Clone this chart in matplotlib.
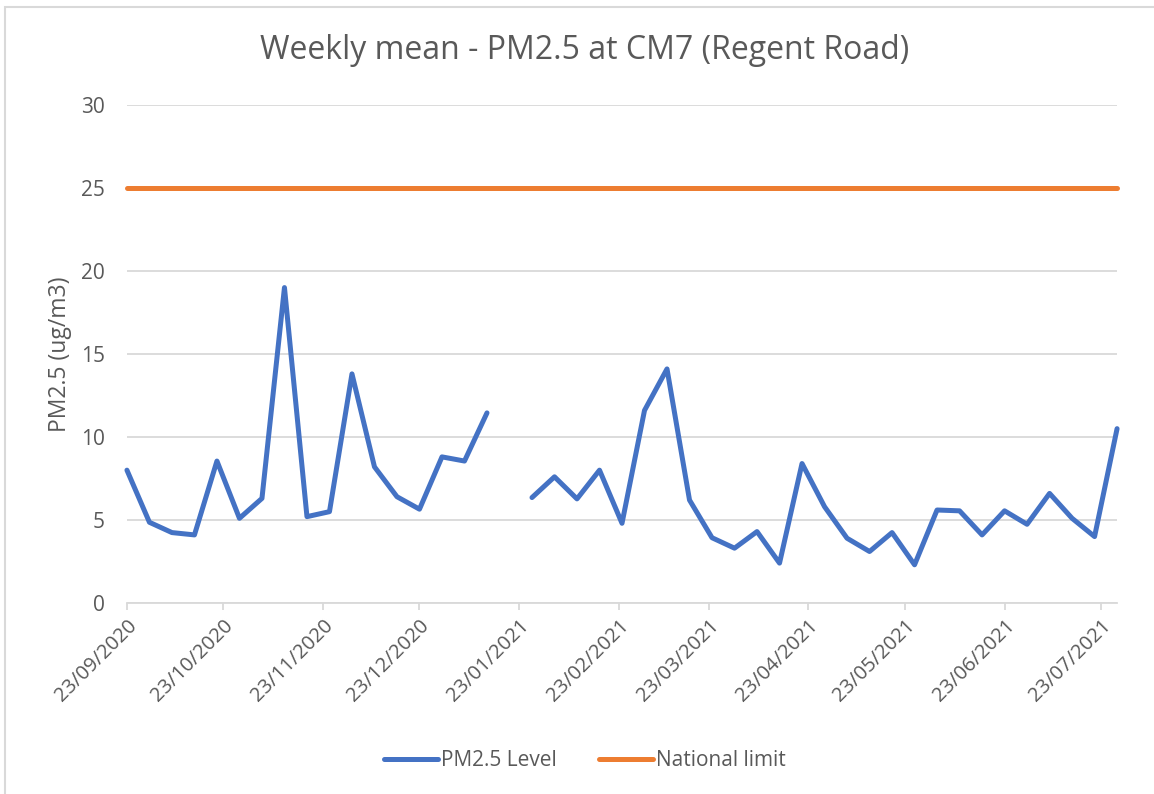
import numpy as np
import pandas as pd
import matplotlib
matplotlib.use('Agg')
import matplotlib.pyplot as plt
import matplotlib.dates as mdates
from matplotlib.patches import Rectangle

plt.rcParams['font.family'] = ['Open Sans', 'DejaVu Sans']

# weekly means, starting 23/09/2020 (one week missing in January)
datas = pd.date_range('2020-09-23', periods=45, freq='7D')
pm25 = [8.0, 4.86, 4.24, 4.1, 8.55, 5.1, 6.3, 19.0, 5.2, 5.5,
        13.8, 8.2, 6.4, 5.65, 8.8, 8.55, 11.45, np.nan, 6.35, 7.6,
        6.27, 8.0, 4.8, 11.6, 14.1, 6.2, 3.93, 3.3, 4.3, 2.4,
        8.4, 5.8, 3.9, 3.1, 4.24, 2.3, 5.6, 5.55, 4.1, 5.55,
        4.74, 6.6, 5.1, 4.0, 10.5]
limite = [25] * len(datas)
ticks = pd.date_range('2020-09-01', '2021-07-01', freq='MS') + pd.Timedelta(days=22)

cinza = '#595959'
fig = plt.figure(figsize=(11.54, 7.94), dpi=100)
ax = fig.add_axes([0.110, 0.2406, 0.858, 0.6272])

ax.plot(datas, pm25, color='#4472c4', lw=3.6, solid_capstyle='round',
        solid_joinstyle='round', label='PM2.5 Level', clip_on=False)
ax.plot(datas, limite, color='#ed7d31', lw=3.6, solid_capstyle='round',
        label='National limit', clip_on=False)

ax.set_xlim(datas[0], datas[-1])
ax.set_ylim(0, 30)
ax.set_yticks(range(0, 31, 5))
ax.set_xticks(ticks)
ax.xaxis.set_major_formatter(mdates.DateFormatter('%d/%m/%Y'))
plt.setp(ax.get_xticklabels(), rotation=45, ha='right', rotation_mode='anchor')

ax.grid(axis='y', color='#d9d9d9', lw=1.3)
ax.set_axisbelow(True)
for s in ['top', 'right', 'left']:
    ax.spines[s].set_visible(False)
ax.spines['bottom'].set_color('#d9d9d9')
ax.spines['bottom'].set_linewidth(1.3)
ax.tick_params(axis='y', length=0, pad=16, labelsize=15, labelcolor=cinza)
ax.tick_params(axis='x', length=5, color='#d9d9d9', width=1.3, pad=4,
               labelsize=14.5, labelcolor=cinza)

ax.set_ylabel('PM2.5 (ug/m3)', fontsize=16.5, color=cinza, labelpad=6)
fig.text(0.507, 0.937, 'Weekly mean - PM2.5 at CM7 (Regent Road)',
         ha='center', va='center', fontsize=23, color=cinza)

fig.legend(loc='center', bbox_to_anchor=(0.507, 0.042), ncol=2, frameon=False,
           fontsize=15, labelcolor=cinza, handlelength=2.6, handletextpad=0.15,
           columnspacing=2.0)

fig.patches.append(Rectangle((5 / 1154, -0.1), 1.2, 1.1 - 7 / 794,
                             transform=fig.transFigure, fill=False,
                             edgecolor='#d9d9d9', lw=1.5))

fig.savefig('out.png', dpi=100)
